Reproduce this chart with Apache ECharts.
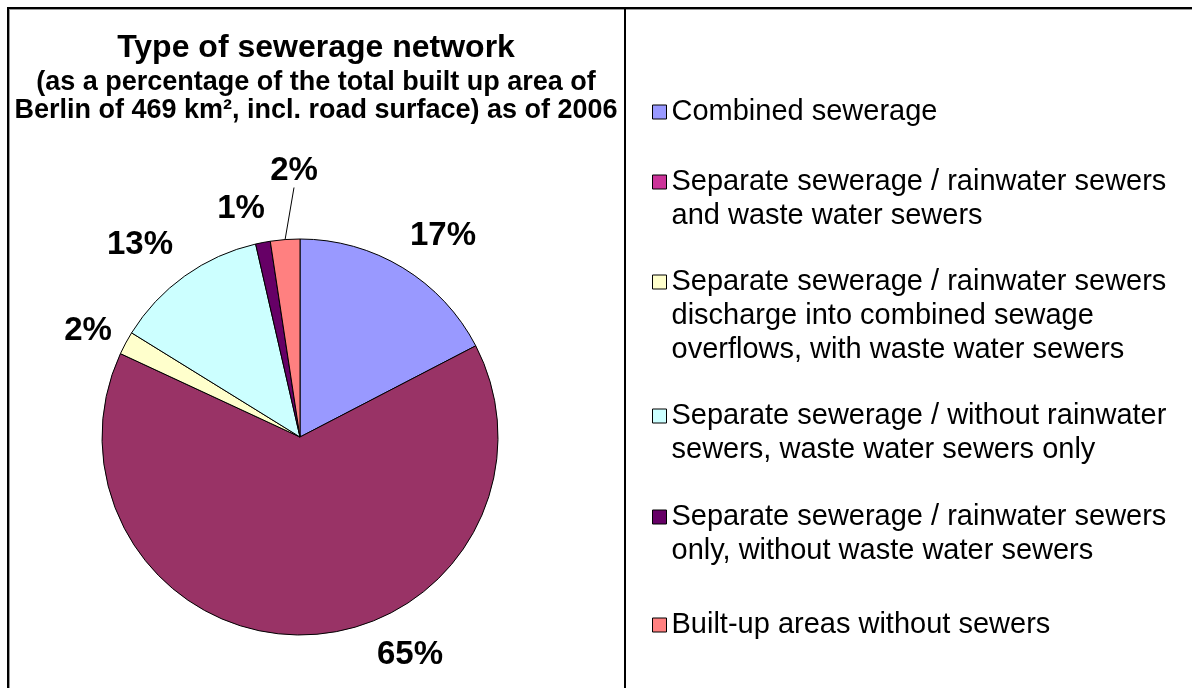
<!DOCTYPE html>
<html>
<head>
<meta charset="utf-8">
<script src="https://cdn.jsdelivr.net/npm/echarts@6/dist/echarts.min.js"></script>
<style>
html,body{margin:0;padding:0;background:#fff;}
#chart{width:1192px;height:688px;}
</style>
</head>
<body>
<div id="chart"></div>
<script>
// ---- data ----
const categories = [
  'Combined sewerage',
  'Separate sewerage / rainwater sewers and waste water sewers',
  'Separate sewerage / rainwater sewers discharge into combined sewage overflows, with waste water sewers',
  'Separate sewerage / without rainwater sewers, waste water sewers only',
  'Separate sewerage / rainwater sewers only, without waste water sewers',
  'Built-up areas without sewers'
];
const legendText = [
  'Combined sewerage',
  'Separate sewerage / rainwater sewers\nand waste water sewers',
  'Separate sewerage / rainwater sewers\ndischarge into combined sewage\noverflows, with waste water sewers',
  'Separate sewerage / without rainwater\nsewers, waste water sewers only',
  'Separate sewerage / rainwater sewers\nonly, without waste water sewers',
  'Built-up areas without sewers'
];
const values = [17.4, 64.6, 1.9, 12.6, 1.2, 2.4];
const titleText = 'Type of sewerage network';
const subtitleText = '(as a percentage of the total built up area of\nBerlin of 469 km², incl. road surface) as of 2006';

// ---- styles / layout ----
const colors = ['#9999FF', '#993366', '#FFFFCC', '#CCFFFF', '#660066', '#FF8080'];
const legendIconColors = ['#9999FF', '#CC3399', '#FFFFCC', '#CCFFFF', '#660066', '#FF8080'];
const labelPos = [[443, 236], [410, 655], [88, 331], [140, 245], [241, 209], [294, 171]];
const legendFirstLine = [112, 182, 282, 416, 517, 625];
const LH = 34;

const font = '"Liberation Sans", Arial, sans-serif';

const chart = echarts.init(document.getElementById('chart'), null, {renderer: 'canvas'});

const legends = categories.map((name, i) => {
  const n = legendText[i].split('\n').length;
  // blank lines above keep the icon level with the first text line
  const shown = '\n'.repeat(n - 1) + legendText[i];
  return {
    show: true,
    orient: 'vertical',
    left: 652,
    top: legendFirstLine[i] - (n - 0.5) * LH,
    padding: 0,
    itemWidth: 14,
    itemHeight: 14,
    selectedMode: false,
    icon: 'rect',
    data: [{
      name: name,
      itemStyle: {color: legendIconColors[i], borderColor: '#000', borderWidth: 1}
    }],
    formatter: function () { return shown; },
    textStyle: {fontFamily: font, fontSize: 29, lineHeight: LH, color: '#000'}
  };
});

const option = {
  animation: false,
  backgroundColor: '#fff',
  title: {
    text: titleText,
    subtext: subtitleText,
    left: 316,
    top: 30,
    textAlign: 'center',
    itemGap: 3,
    padding: 0,
    textStyle: {fontFamily: font, fontSize: 32, fontWeight: 'bold', color: '#000', lineHeight: 36},
    subtextStyle: {fontFamily: font, fontSize: 27, fontWeight: 'bold', color: '#000', lineHeight: 28}
  },
  legend: legends,
  graphic: [
    {type: 'rect', shape: {x: 7, y: 7, width: 1185, height: 2}, style: {fill: '#000'}, silent: true},
    {type: 'rect', shape: {x: 9, y: 9, width: 1183, height: 1}, style: {fill: '#999'}, silent: true},
    {type: 'rect', shape: {x: 7, y: 7, width: 2, height: 681}, style: {fill: '#000'}, silent: true},
    {type: 'rect', shape: {x: 9, y: 9, width: 1, height: 679}, style: {fill: '#999'}, silent: true},
    {type: 'rect', shape: {x: 624, y: 9, width: 2, height: 679}, style: {fill: '#000'}, silent: true}
  ],
  series: [{
    type: 'pie',
    center: [300, 437],
    radius: 198,
    startAngle: 90,
    clockwise: true,
    avoidLabelOverlap: false,
    itemStyle: {borderColor: '#000', borderWidth: 1},
    emphasis: {disabled: true},
    label: {
      show: true,
      position: 'outside',
      fontFamily: font,
      fontSize: 33,
      fontWeight: 'bold',
      color: '#000',
      formatter: p => Math.round(p.value) + '%'
    },
    labelLine: {show: false, length: 10, length2: 0, lineStyle: {color: '#000', width: 1}},
    labelLayout: function (params) {
      const p = labelPos[params.dataIndex];
      return {x: p[0], y: p[1], align: 'center', verticalAlign: 'middle'};
    },
    data: categories.map((name, i) => ({
      name: name,
      value: values[i],
      itemStyle: {color: colors[i]},
      labelLine: i === 5 ? {show: true, length: 10, length2: 0, lineStyle: {color: '#000', width: 1}} : undefined
    }))
  }]
};
chart.setOption(option);
</script>
</body>
</html>
